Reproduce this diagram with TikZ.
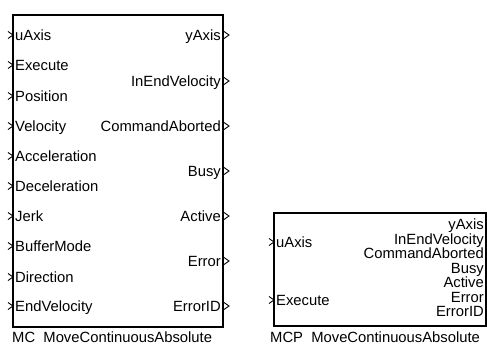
\documentclass[tikz,border=0pt]{standalone}
\usepackage{fontspec}
\setmainfont{Liberation Sans}
\begin{document}
\begin{tikzpicture}[x=1pt,y=-1pt,
  lbl/.style={font=\fontsize{14.8}{16}\selectfont, inner sep=0pt, text height=10.5pt, text depth=3pt},
  inl/.style={lbl, anchor=base west},
  outl/.style={lbl, anchor=base east},
  blk/.style={draw, line width=1.3pt},
  chev/.style={line width=0.9pt}]
\useasboundingbox (0,0) rectangle (487,345);
\clip (0,0) rectangle (487,345);
% big block
\draw[blk] (13,15) rectangle (223,327);
\foreach \n/\t/\y in {a/uAxis/35,b/Execute/65,c/Position/96,d/Velocity/126,e/Acceleration/156,f/Deceleration/186,g/Jerk/216,h/BufferMode/246,i/Direction/277,j/EndVelocity/306}{
  \coordinate (in\n) at (13,\y);
  \node[inl] (t\n) at (15,\y+5.2) {\t};
  \draw[chev] ([shift={(-5,-3.5)}]in\n) -- (in\n) -- ([shift={(-5,3.5)}]in\n);
}
\foreach \n/\t/\y in {a/yAxis/35,b/InEndVelocity/81,c/CommandAborted/126,d/Busy/171,e/Active/216,f/Error/261,g/ErrorID/306}{
  \coordinate (out\n) at (224,\y);
  \node[outl] (o\n) at (221,\y+5.2) {\t};
  \draw[chev] ([shift={(0,-3.5)}]out\n) -- ([shift={(5,0)}]out\n) -- ([shift={(0,3.5)}]out\n);
}
\node[lbl, anchor=base west, text depth=0.5pt] (name1) at (12,342.3) {MC\ \ MoveContinuousAbsolute};
% small block
\draw[blk] (274,213) rectangle (486,326);
\foreach \n/\t/\y in {a/uAxis/242,b/Execute/300}{
  \coordinate (sin\n) at (274,\y);
  \node[inl] (st\n) at (276,\y+5.2) {\t};
  \draw[chev] ([shift={(-5,-3.5)}]sin\n) -- (sin\n) -- ([shift={(-5,3.5)}]sin\n);
}
\foreach \n/\t/\y in {a/yAxis/224.5,b/InEndVelocity/239,c/CommandAborted/253.5,d/Busy/268,e/Active/282.5,f/Error/297,g/ErrorID/311.5}{
  \coordinate (sout\n) at (486,\y);
  \node[outl] (so\n) at (484,\y+5.2) {\t};
  \draw[chev] ([shift={(0,-3.5)}]sout\n) -- ([shift={(5,0)}]sout\n) -- ([shift={(0,3.5)}]sout\n);
}
\node[lbl, anchor=base west, text depth=0.5pt] (name2) at (270,342.3) {MCP\ \ MoveContinuousAbsolute};
\end{tikzpicture}
\end{document}
